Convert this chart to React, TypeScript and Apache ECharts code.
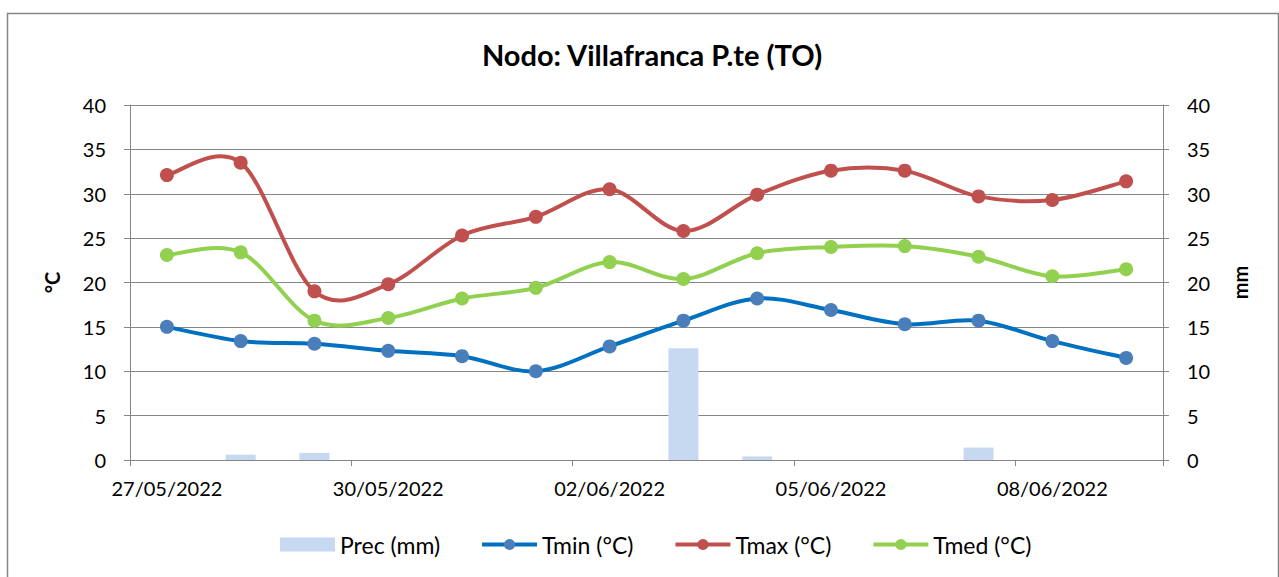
import { useEffect, useRef } from 'react';
import * as echarts from 'echarts';

const dates = [
  '27/05/2022', '28/05/2022', '29/05/2022', '30/05/2022', '31/05/2022', '01/06/2022', '02/06/2022',
  '03/06/2022', '04/06/2022', '05/06/2022', '06/06/2022', '07/06/2022', '08/06/2022', '09/06/2022',
];
const prec = [0, 0.6, 0.8, 0, 0, 0, 0, 12.6, 0.4, 0, 0, 1.4, 0, 0];
const tmin = [15.0, 13.4, 13.1, 12.3, 11.7, 10.0, 12.8, 15.7, 18.2, 16.9, 15.3, 15.7, 13.4, 11.5];
const tmax = [32.1, 33.5, 19.0, 19.8, 25.3, 27.4, 30.5, 25.8, 29.9, 32.6, 32.6, 29.7, 29.3, 31.4];
const tmed = [23.1, 23.4, 15.7, 16.0, 18.2, 19.4, 22.3, 20.4, 23.3, 24.0, 24.1, 22.9, 20.7, 21.5];

const FONT = 'Lato, "Liberation Sans", sans-serif';
const GRID = '#868686';
const C_MIN = '#0070C0';
const C_MIN_MARK = '#4A7EBB';
const C_MAX = '#C0504D';
const C_MED = '#92D050';

// Excel-style smoothed curve (Catmull-Rom as cubic Bezier), positioned with the chart's own scales.
function curveSeries(id: string, values: number[], color: string) {
  return {
    id,
    name: id,
    type: 'custom',
    coordinateSystem: 'cartesian2d',
    xAxisIndex: 0,
    yAxisIndex: 0,
    silent: true,
    z: 2,
    data: [[0, values[0]]],
    renderItem: (_params: any, api: any) => {
      const pts = values.map((v, i) => api.coord([i, v]));
      let d = `M${pts[0][0]},${pts[0][1]}`;
      for (let i = 0; i < pts.length - 1; i++) {
        const p0 = pts[i - 1] || pts[i];
        const p1 = pts[i];
        const p2 = pts[i + 1];
        const p3 = pts[i + 2] || pts[i + 1];
        const c1x = p1[0] + (p2[0] - p0[0]) / 6;
        const c1y = p1[1] + (p2[1] - p0[1]) / 6;
        const c2x = p2[0] - (p3[0] - p1[0]) / 6;
        const c2y = p2[1] - (p3[1] - p1[1]) / 6;
        d += ` C${c1x},${c1y} ${c2x},${c2y} ${p2[0]},${p2[1]}`;
      }
      return {
        type: 'path',
        shape: { pathData: d },
        style: { fill: 'none', stroke: color, lineWidth: 4, lineJoin: 'round', lineCap: 'round' },
      };
    },
  };
}

function markerSeries(name: string, values: number[], color: string) {
  return {
    name,
    type: 'line',
    data: values,
    symbol: 'circle',
    symbolSize: 14,
    lineStyle: { color, width: 4, opacity: 0 },
    itemStyle: { color },
    z: 3,
  };
}

export default function App() {
  const ref = useRef<HTMLDivElement>(null);
  useEffect(() => {
    const chart = echarts.init(ref.current!, null, { renderer: 'svg' });
    const yCommon = {
      type: 'value',
      min: 0,
      max: 40,
      interval: 5,
      nameLocation: 'middle',
      nameTextStyle: { fontSize: 20, fontWeight: 'bold', color: '#000', fontFamily: FONT },
      axisLine: { show: true, lineStyle: { color: GRID, width: 1 } },
      axisTick: { show: true, length: 6, lineStyle: { color: GRID } },
      axisLabel: { fontSize: 20, color: '#000', fontFamily: FONT, margin: 24 },
    };
    chart.setOption({
      animation: false,
      backgroundColor: '#fff',
      textStyle: { fontFamily: FONT },
      graphic: [
        {
          type: 'rect',
          shape: { x: 7.5, y: 13.5, width: 1271, height: 620 },
          style: { fill: 'none', stroke: GRID, lineWidth: 1.5 },
          silent: true,
        },
      ],
      title: {
        text: 'Nodo: Villafranca P.te (TO)',
        left: 647,
        top: 35,
        textAlign: 'center',
        textStyle: { fontSize: 29, fontWeight: 'bold', color: '#000', fontFamily: FONT },
      },
      legend: {
        top: 528,
        left: 275,
        itemWidth: 55,
        itemHeight: 14,
        itemGap: 40,
        textStyle: { fontSize: 23, color: '#000', fontFamily: FONT },
        data: [
          { name: 'Prec (mm)', icon: 'rect' },
          { name: 'Tmin (°C)', lineStyle: { color: C_MIN, width: 4, opacity: 1 }, itemStyle: { color: C_MIN_MARK } },
          { name: 'Tmax (°C)', lineStyle: { color: C_MAX, width: 4, opacity: 1 } },
          { name: 'Tmed (°C)', lineStyle: { color: C_MED, width: 4, opacity: 1 } },
        ],
      },
      grid: { left: 130, right: 116, top: 105, bottom: 117, containLabel: false },
      xAxis: {
        type: 'category',
        data: dates,
        boundaryGap: true,
        axisLine: { lineStyle: { color: GRID, width: 1 } },
        axisTick: { show: true, interval: 2, length: 6, alignWithLabel: false, lineStyle: { color: GRID } },
        axisLabel: { interval: 2, fontSize: 20, color: '#000', fontFamily: FONT, margin: 18 },
      },
      yAxis: [
        {
          ...yCommon,
          name: '°C',
          position: 'left',
          nameGap: 68,
          splitLine: { show: true, lineStyle: { color: GRID, width: 1 } },
        },
        {
          ...yCommon,
          name: 'mm',
          position: 'right',
          nameGap: 67,
          splitLine: { show: false },
        },
      ],
      series: [
        {
          name: 'Prec (mm)',
          type: 'bar',
          yAxisIndex: 1,
          data: prec,
          barWidth: 30,
          itemStyle: { color: '#C6D9F1' },
          z: 1,
        },
        curveSeries('curve-tmin', tmin, C_MIN),
        curveSeries('curve-tmax', tmax, C_MAX),
        curveSeries('curve-tmed', tmed, C_MED),
        markerSeries('Tmin (°C)', tmin, C_MIN_MARK),
        markerSeries('Tmax (°C)', tmax, C_MAX),
        markerSeries('Tmed (°C)', tmed, C_MED),
      ],
    });
    return () => chart.dispose();
  }, []);
  return (
    <div
      ref={ref}
      style={{ position: 'fixed', left: 0, top: 0, width: 1279, height: 577, background: '#fff' }}
    />
  );
}
